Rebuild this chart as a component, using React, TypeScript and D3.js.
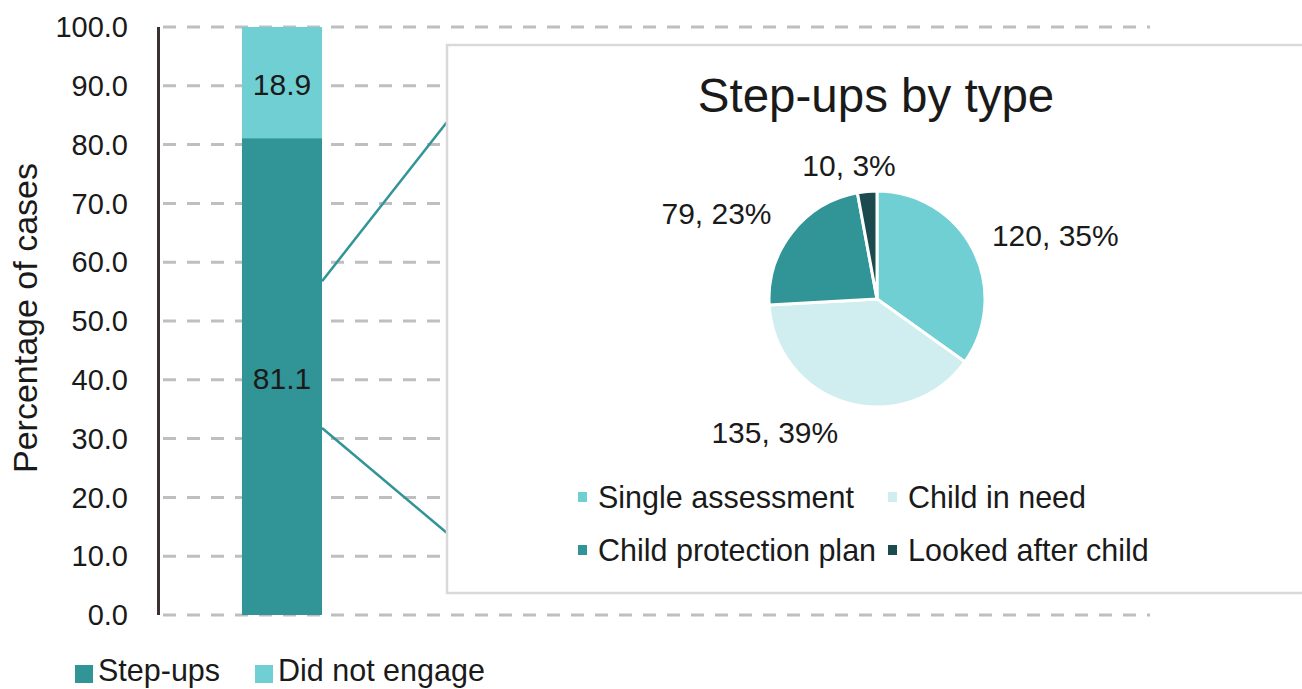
import React from "react";
import * as d3 from "d3";

// ---- data ----
const categories = ["All cases"];
const seriesNames = ["Step-ups", "Did not engage"];
const stepUps = [81.1];
const didNotEngage = [18.9];
const pieTypes = ["Single assessment", "Child in need", "Child protection plan", "Looked after child"];
const pieCounts = [120, 135, 79, 10];
const pieTitle = "Step-ups by type";
const yAxisTitle = "Percentage of cases";

// ---- styles ----
const W = 1302;
const H = 689;
const FONT = "'Liberation Sans', Arial, Helvetica, sans-serif";
const TEXT = "#1a1a1a";
const seriesColors = ["#319597", "#70cfd3"];
const pieColors = ["#70cfd3", "#d0eeef", "#319597", "#1b4b4f"];
const labelNudge: [number, number][] = [[9, 2], [-49, -4], [-17, 3], [-12, 9]];

export default function App() {
  const plot = { left: 160, right: 1150, top: 27, bottom: 615 };
  const y = d3.scaleLinear().domain([0, 100]).range([plot.bottom, plot.top]);
  const x = d3
    .scaleBand<string>()
    .domain(categories)
    .range([plot.left, 404])
    .paddingInner(0.506)
    .paddingOuter(0.506);
  const ticks = y.ticks(10);
  const fmt = d3.format(".1f");

  const stackData = categories.map((c, i) => ({ cat: c, "Step-ups": stepUps[i], "Did not engage": didNotEngage[i] }));
  const stacked = d3.stack<any>().keys(seriesNames)(stackData);

  // inset
  const box = { x: 447, y: 45, w: 1000, h: 548 };
  const cx = 877;
  const cy = 299;
  const r = 108;
  const pie = d3.pie<number>().sort(null).value((d) => d).startAngle(0).endAngle(Math.PI * 2);
  const arcs = pie(pieCounts);
  const arc = d3.arc<d3.PieArcDatum<number>>().innerRadius(0).outerRadius(r);
  const total = d3.sum(pieCounts);

  const bx0 = x(categories[0])!;
  const bw = x.bandwidth();
  const barRight = bx0 + bw;
  // connector lines from step-ups segment to inset box
  const connUpperFrom = y(stepUps[0] * 0.7);
  const connLowerFrom = y(stepUps[0] * 0.392);

  const labelFont = 30;
  const legendX0 = 578;
  const legendColW = 310;
  const legendY0 = 497;
  const legendRowH = 53;

  return (
    <svg
      width={W}
      height={H}
      style={{ position: "absolute", left: 0, top: 0, background: "#fff" }}
      fontFamily={FONT}
    >
      <rect x={0} y={0} width={W} height={H} fill="#fff" />
      {/* gridlines */}
      {ticks.map((t) => (
        <line
          key={"g" + t}
          x1={plot.left}
          x2={plot.right}
          y1={y(t)}
          y2={y(t)}
          stroke="#bfbfbf"
          strokeWidth={3}
          strokeDasharray="13,11"
          strokeDashoffset={-3}
        />
      ))}
      {/* tick labels */}
      {ticks.map((t) => (
        <text
          key={"t" + t}
          x={128}
          y={y(t)}
          dy="0.35em"
          textAnchor="end"
          fontSize={29}
          fill={TEXT}
        >
          {fmt(t)}
        </text>
      ))}
      {/* y axis title */}
      <text
        transform={`translate(37,${(plot.top + plot.bottom) / 2 - 3}) rotate(-90)`}
        textAnchor="middle"
        fontSize={34}
        fill={TEXT}
      >
        {yAxisTitle}
      </text>
      {/* stacked bar */}
      {stacked.map((s, si) =>
        s.map((d, i) => (
          <rect
            key={s.key + i}
            x={x(categories[i])}
            width={x.bandwidth()}
            y={y(d[1])}
            height={y(d[0]) - y(d[1])}
            fill={seriesColors[si]}
          />
        ))
      )}
      {stacked.map((s, si) =>
        s.map((d, i) => (
          <text
            key={"l" + s.key + i}
            x={x(categories[i])! + x.bandwidth() / 2}
            y={(y(d[0]) + y(d[1])) / 2 + 2}
            dy="0.35em"
            textAnchor="middle"
            fontSize={30}
            fill={TEXT}
          >
            {fmt(d[1] - d[0])}
          </text>
        ))
      )}
      {/* y axis line */}
      <line x1={158.5} x2={158.5} y1={plot.top} y2={plot.bottom} stroke="#3b3131" strokeWidth={3} />
      {/* connectors */}
      <line x1={barRight} y1={connUpperFrom} x2={box.x} y2={122} stroke="#319597" strokeWidth={2.5} />
      <line x1={barRight} y1={connLowerFrom} x2={box.x} y2={533} stroke="#319597" strokeWidth={2.5} />
      {/* inset box */}
      <rect x={box.x} y={box.y} width={box.w} height={box.h} fill="#fff" stroke="#d9d9d9" strokeWidth={2.5} />
      <text x={cx - 1} y={112} textAnchor="middle" fontSize={47.5} fill={TEXT}>
        {pieTitle}
      </text>
      <g transform={`translate(${cx},${cy})`}>
        {arcs.map((a, i) => (
          <path key={"p" + i} d={arc(a)!} fill={pieColors[i]} stroke="#fff" strokeWidth={3} strokeLinejoin="miter" />
        ))}
        {arcs.map((a, i) => {
          const mid = (a.startAngle + a.endAngle) / 2;
          const rr = r + 20;
          const px = rr * Math.sin(mid);
          const py = -rr * Math.cos(mid);
          const label = `${pieCounts[i]}, ${Math.round((pieCounts[i] / total) * 100)}%`;
          const w = label.length * labelFont * 0.52;
          const lx = px + (w / 2) * Math.sin(mid) + labelNudge[i][0];
          const ly = py - (labelFont / 2) * Math.cos(mid) + labelNudge[i][1];
          return (
            <text key={"pl" + i} x={lx} y={ly} dy="0.35em" textAnchor="middle" fontSize={labelFont} fill={TEXT}>
              {label}
            </text>
          );
        })}
      </g>
      {/* inset legend */}
      {pieTypes.map((t, i) => {
        const col = i % 2;
        const row = Math.floor(i / 2);
        const lx = legendX0 + col * legendColW;
        const ly = legendY0 + row * legendRowH;
        return (
          <g key={"lg" + i}>
            <rect x={lx} y={ly - 5} width={9} height={10} fill={pieColors[i]} />
            <text x={lx + 20} y={ly} dy="0.35em" fontSize={30.5} fill={TEXT}>
              {t}
            </text>
          </g>
        );
      })}
      {/* bottom legend */}
      {seriesNames.map((s, i) => {
        const lx = 75 + i * 180;
        return (
          <g key={"bl" + i}>
            <rect x={lx} y={665} width={18} height={18} fill={seriesColors[i]} />
            <text x={lx + 23} y={670} dy="0.35em" fontSize={30.5} fill={TEXT}>
              {s}
            </text>
          </g>
        );
      })}
    </svg>
  );
}
